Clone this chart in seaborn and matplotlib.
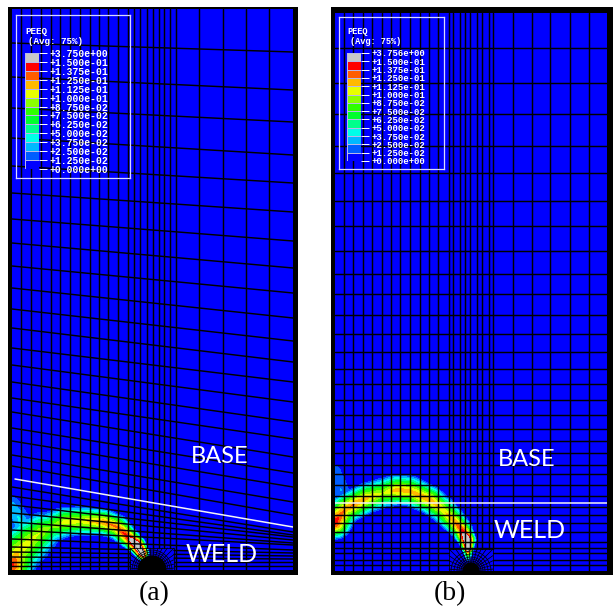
"""
plot.py
Purpose: Redraw the two PEEQ contour plots (a) and (b) with mesh, weld line and legends.
Output:  out.png
"""

import numpy as np
import pandas as pd
import matplotlib
matplotlib.use("Agg")
import matplotlib.pyplot as plt
from matplotlib.colors import BoundaryNorm, ListedColormap
from matplotlib.patches import Circle
import seaborn as sns

# ---------------------------------------------------------------------------
# Data (mesh and band coordinates are image pixels)
# ---------------------------------------------------------------------------

LEVELS = [0.0, 0.0125, 0.025, 0.0375, 0.05, 0.0625, 0.075, 0.0875,
          0.1, 0.1125, 0.125, 0.1375, 0.15, 3.75]
COLOURS_LOW_TO_HIGH = ["#0000ff", "#005dff", "#00b9ff", "#00ffe8", "#00ff8b",
                       "#00ff2e", "#2eff00", "#8bff00", "#e8ff00", "#ffb900",
                       "#ff5d00", "#ff0000", "#c8c8c8"]
LABELS_A = ["+3.750e+00", "+1.500e-01", "+1.375e-01", "+1.250e-01", "+1.125e-01",
            "+1.000e-01", "+8.750e-02", "+7.500e-02", "+6.250e-02", "+5.000e-02",
            "+3.750e-02", "+2.500e-02", "+1.250e-02", "+0.000e+00"]
LABELS_B = ["+3.756e+00"] + LABELS_A[1:]

# panel (a) mesh
VERT_A = [20.7, 30.7, 40.7, 50.7, 60, 70.3, 80, 90, 99, 108, 118, 128, 134,
          140, 147, 153, 159, 164, 170, 176, 199, 223, 246, 269]
HORIZ_A_LEFT = [43, 77, 108, 138, 166, 193, 219, 243, 266, 288, 309, 328, 348,
                365, 382, 398, 412, 428, 441, 455, 466,
                487, 496, 505, 513, 522, 530, 539, 547, 552, 557, 562, 566]
HORIZ_A_RIGHT = [52, 90, 122, 155, 183, 212, 241, 268, 293, 318, 341, 362, 382,
                 402, 422, 439, 457, 473, 487, 502, 515,
                 532, 535, 537, 540, 543, 545, 550, 553, 556, 559, 562, 566]

# panel (b) mesh
VERT_B = [344, 353, 363, 372, 382, 391, 400, 410, 420, 429, 438, 449, 453, 460,
          465, 470, 477, 482, 489, 493, 513, 532, 550, 570, 589]
HORIZ_B = [48, 83, 114, 146, 173, 201, 226, 251, 274, 294, 315, 334, 352, 369,
           384, 400, 415, 429, 441, 453, 465, 474, 485, 496, 507, 515, 523, 532,
           542, 548, 553, 560, 565]

# plastic band: centre path, PEEQ at the centre, half width in pixels
BAND_A_X = [12, 18, 31, 41, 51, 65, 81, 103, 117, 128, 137, 142, 146]
BAND_A_Y = [565, 552, 540, 532, 527, 522, 521, 522, 527, 537, 545, 553, 561]
BAND_A_PEEQ = [0.145, 0.112, 0.105, 0.100, 0.088, 0.108, 0.108, 0.125, 0.130, 0.148, 0.20, 0.20, 0.06]
BAND_A_HALF = [24, 27, 25, 22, 18, 17, 16, 15, 14, 12, 10, 8, 4]
WEDGE_A_X = [12, 24]
WEDGE_A_Y = [506, 528]
WEDGE_A_PEEQ = [0.032, 0.045]
WEDGE_A_HALF = [13, 14]

BAND_B_X = [335, 345, 353, 367, 383, 397, 410, 430, 443, 453, 462, 467, 468, 468]
BAND_B_Y = [522, 509, 505, 498, 493, 490, 491, 500, 510, 520, 530, 540, 548, 558]
BAND_B_PEEQ = [0.15, 0.122, 0.128, 0.118, 0.100, 0.122, 0.118, 0.125, 0.110, 0.122, 0.142, 0.20, 0.20, 0.05]
BAND_B_HALF = [19, 17, 17, 17, 17, 17, 17, 16, 15, 14, 12, 10, 7, 4]
WEDGE_B_X = [335, 341]
WEDGE_B_Y = [472, 490]
WEDGE_B_PEEQ = [0.020, 0.026]
WEDGE_B_HALF = [13, 13]

# fan mesh around the notch (degrees, radii in pixels)
FAN_ANGLES = [5, 15, 25, 35, 45, 55, 65, 75, 85, 95, 105, 115, 125, 135, 145, 155, 165, 175]
FAN_RADII_A = [16, 18, 20]
FAN_RADII_B = [10, 12, 14, 17, 20]

sns.set_style("white")
plt.rcParams["font.family"] = ["Lato", "DejaVu Sans"]

W, H = 613, 611
fig = plt.figure(figsize=(W / 100, H / 100), dpi=100)
fig.patch.set_facecolor("white")


def px_axes(x0, y0, x1, y1, **kwargs):
    return fig.add_axes([x0 / W, 1 - y1 / H, (x1 - x0) / W, (y1 - y0) / H], **kwargs)


def band_field(x0, y0, x1, y1, branches):
    # PEEQ on a one-pixel grid, falling away from the read centre paths
    xx, yy = np.meshgrid(np.arange(x0, x1) + 0.5, np.arange(y0, y1) + 0.5)
    field = np.zeros(xx.shape)
    for bx, by, peak, half in branches:
        for i in range(len(bx) - 1):
            dx, dy = bx[i + 1] - bx[i], by[i + 1] - by[i]
            t = ((xx - bx[i]) * dx + (yy - by[i]) * dy) / (dx * dx + dy * dy)
            t = np.clip(t, 0, 1)
            dist = np.hypot(xx - bx[i] - t * dx, yy - by[i] - t * dy)
            p = peak[i] + t * (peak[i + 1] - peak[i])
            h = half[i] + t * (half[i + 1] - half[i])
            field = np.maximum(field, p * (1 - np.clip(dist / h, 0, 1) ** 1.3))
    return field


def draw_mesh(ax, segments, lw=1.0):
    rows = []
    for uid, (xs, ys) in enumerate(segments):
        rows.append(pd.DataFrame({"x": xs, "y": ys, "line": uid}))
    sns.lineplot(data=pd.concat(rows), x="x", y="y", units="line", estimator=None,
                 sort=False, color="black", lw=lw, ax=ax, legend=False)


def draw_panel(frame, inner, branches, vert, left, right, box, centre, disc, radii,
               weld, base_xy, weld_xy):
    outer = px_axes(*frame)
    outer.set_facecolor("black")
    outer.set_xticks([])
    outer.set_yticks([])
    sns.despine(ax=outer, left=True, right=True, top=True, bottom=True)

    # contour field in its own axes (cells run 0..n)
    x0, y0, x1, y1 = inner
    hm = px_axes(*inner)
    cmap = ListedColormap(COLOURS_LOW_TO_HIGH)
    sns.heatmap(band_field(x0, y0, x1, y1, branches), cmap=cmap,
                norm=BoundaryNorm(LEVELS, cmap.N), cbar=False,
                xticklabels=False, yticklabels=False, ax=hm)

    # mesh on top, in image pixels
    ax = px_axes(*inner)
    ax.patch.set_alpha(0)
    bx0, by0, bx1 = box
    segments = []
    for v in vert:
        segments.append(([v, v], [y0, by0 if bx0 <= v <= bx1 else y1]))
    for yl, yr in zip(left, right):
        ya = yl + (yr - yl) * (bx0 - x0) / (x1 - x0)
        yb = yl + (yr - yl) * (bx1 - x0) / (x1 - x0)
        if ya > by0 or yb > by0:
            segments.append(([x0, bx0], [yl, ya]))
            segments.append(([bx1, x1], [yb, yr]))
        else:
            segments.append(([x0, x1], [yl, yr]))
    draw_mesh(ax, segments, lw=1.05)

    # notch box with its fan of small elements
    cx, cy = centre
    fan = [([bx0, bx0, bx1, bx1], [y1, by0, by0, y1])]
    for deg in FAN_ANGLES:
        c, s = np.cos(np.radians(deg)), np.sin(np.radians(deg))
        reach = min((cx - bx0) / max(abs(c), 1e-6), (cy - by0) / max(s, 1e-6))
        fan.append(([cx + disc * c, cx + reach * c], [cy - disc * s, cy - reach * s]))
    for r in radii:
        arc = np.radians(np.arange(0, 181, 10))
        fan.append((cx + r * np.cos(arc), cy - r * np.sin(arc)))
    draw_mesh(ax, fan, lw=0.55)
    ax.add_patch(Circle((cx, cy), disc, color="black", zorder=5))

    sns.lineplot(x=weld[0], y=weld[1], color="#f4f4f4", lw=1.1, ax=ax, sort=False,
                 estimator=None, legend=False, zorder=6)
    ax.text(*base_xy, "BASE", color="white", fontsize=17, ha="center", va="center", zorder=7)
    ax.text(*weld_xy, "WELD", color="white", fontsize=18, ha="center", va="center", zorder=7)
    ax.set_xlim(x0, x1)
    ax.set_ylim(y1, y0)
    ax.set_xticks([])
    ax.set_yticks([])
    ax.set_xlabel("")
    ax.set_ylabel("")
    sns.despine(ax=ax, left=True, right=True, top=True, bottom=True)


def draw_legend(box, swatch, labels, title_xy, avg_xy, fontsize):
    # white frame of the legend, drawn over the mesh
    x0, y0, x1, y1 = box
    frame = px_axes(x0, y0, x1, y1)
    frame.patch.set_alpha(0)
    frame.set_xticks([])
    frame.set_yticks([])
    for spine in frame.spines.values():
        spine.set_color("#d8d8ff")
        spine.set_linewidth(0.9)
        spine.set_visible(True)
    frame.set_zorder(10)
    fig.text(title_xy[0] / W, 1 - title_xy[1] / H, "PEEQ", color="white", fontsize=fontsize - 0.3,
             family="Liberation Mono", weight="bold", va="center", zorder=12)
    fig.text(avg_xy[0] / W, 1 - avg_xy[1] / H, "(Avg: 75%)", color="white", fontsize=fontsize - 0.3,
             family="Liberation Mono", weight="bold", va="center", zorder=12)

    ax = px_axes(*swatch)
    ax.set_zorder(11)
    cells = np.arange(len(COLOURS_LOW_TO_HIGH))[::-1].reshape(-1, 1)
    sns.heatmap(cells, cmap=ListedColormap(COLOURS_LOW_TO_HIGH), cbar=False,
                linewidths=0.5, linecolor="#b8b8e8", xticklabels=False, ax=ax)
    ax.set_yticks(np.arange(len(labels)))
    ax.set_yticklabels(labels, rotation=0, family="Liberation Mono", weight="bold",
                       fontsize=fontsize, color="white")
    ax.tick_params(axis="y", left=False, right=True, labelleft=False, labelright=True,
                   length=6, width=0.7, color="white", pad=1.5)
    ax.set_ylabel("")


# ---------------------------------------------------------------------------
# Panels
# ---------------------------------------------------------------------------

draw_panel((8, 7, 298, 575), (12, 9, 293, 570),
           [(BAND_A_X, BAND_A_Y, BAND_A_PEEQ, BAND_A_HALF),
            (WEDGE_A_X, WEDGE_A_Y, WEDGE_A_PEEQ, WEDGE_A_HALF)],
           VERT_A, HORIZ_A_LEFT, HORIZ_A_RIGHT, (130, 548, 174), (152, 570), 14,
           FAN_RADII_A, ([15, 293], [479, 527]), (220, 456), (222, 555))

draw_panel((331, 7, 613, 575), (335, 13, 607, 571),
           [(BAND_B_X, BAND_B_Y, BAND_B_PEEQ, BAND_B_HALF),
            (WEDGE_B_X, WEDGE_B_Y, WEDGE_B_PEEQ, WEDGE_B_HALF)],
           VERT_B, HORIZ_B, HORIZ_B, (449, 549, 493), (471, 571), 8,
           FAN_RADII_B, ([335, 607], [503, 503]), (527, 459), (530, 530))

draw_legend((16, 15, 130, 178), (25, 53, 39, 169), LABELS_A, (25, 31), (28, 42), 7.0)
draw_legend((339, 17, 444, 169), (347, 53, 361, 161), LABELS_B, (347, 32), (350, 42), 6.5)

fig.text(154 / W, 1 - 594 / H, "(a)", family="Liberation Serif", fontsize=20,
         ha="center", va="center", color="black")
fig.text(450 / W, 1 - 594 / H, "(b)", family="Liberation Serif", fontsize=20,
         ha="center", va="center", color="black")

fig.savefig("out.png", dpi=100)
